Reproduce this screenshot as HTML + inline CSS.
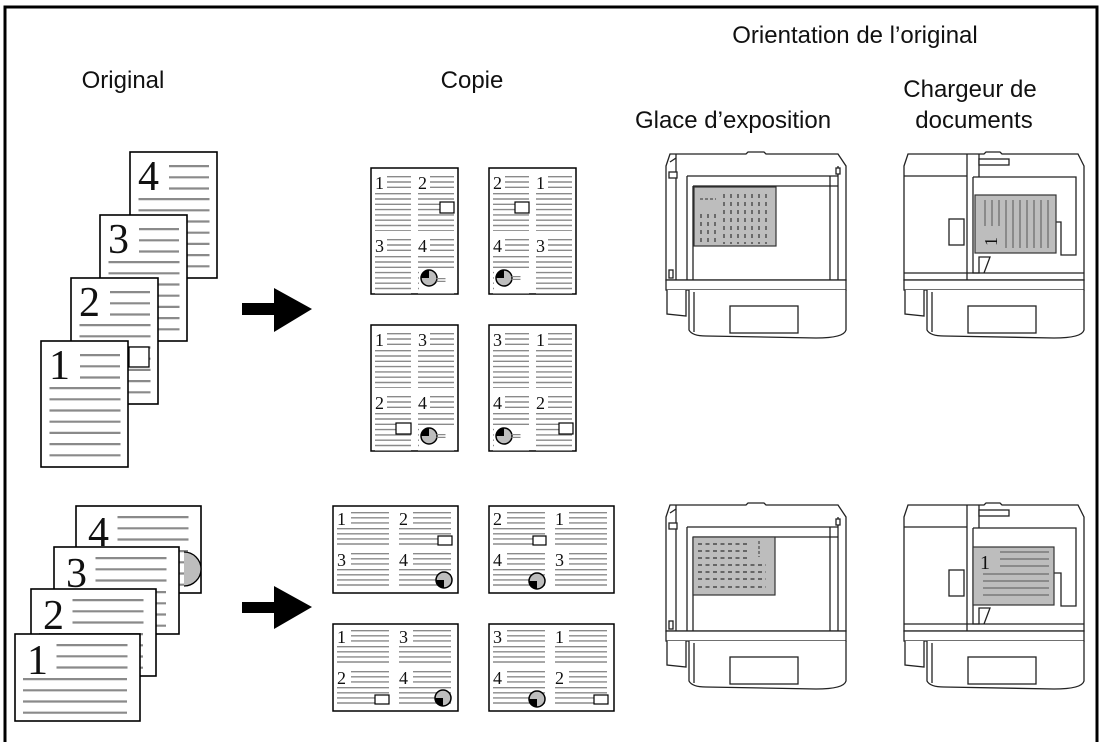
<!DOCTYPE html>
<html><head><meta charset="utf-8"><style>
html,body{margin:0;padding:0;background:#fff;width:1100px;height:742px;overflow:hidden}
svg{display:block}
.lbl{font-family:"Liberation Sans",Arial,sans-serif;font-size:24px;fill:#111}
.n{font-family:"Liberation Serif","DejaVu Serif",serif;fill:#111}
</style></head><body>
<svg width="1100" height="742" viewBox="0 0 1100 742" xmlns="http://www.w3.org/2000/svg">
<defs>
  <!-- portrait copy quadrant lines -->
  <g id="pq" stroke="#8a8a8a" stroke-dasharray="1.4 3.9">
    <line x1="24" y1="2" x2="24" y2="17" stroke-width="24"/>
    <line x1="18" y1="19" x2="18" y2="57" stroke-width="36"/>
  </g>
  <!-- landscape copy quadrant lines -->
  <g id="lq" stroke="#8a8a8a" stroke-dasharray="1.4 3.7">
    <line x1="33" y1="2" x2="33" y2="16" stroke-width="38"/>
    <line x1="26" y1="18" x2="26" y2="38" stroke-width="52"/>
  </g>
  <g id="pie">
    <circle r="8" fill="#bdbdbd" stroke="#000" stroke-width="1.5"/>
    <path d="M0,0 L0,-8 A8,8 0 0 0 -8,0 Z" fill="#000"/>
  </g>
  <g id="piel">
    <circle r="8" fill="#bdbdbd" stroke="#000" stroke-width="1.5"/>
    <path d="M0,0 L0,8 A8,8 0 0 1 -8,0 Z" fill="#000"/>
  </g>
  <!-- portrait original page -->
  <g id="po">
    <rect x="0" y="0" width="87" height="126" fill="#fff" stroke="#000" stroke-width="1.6"/>
    <line x1="59" y1="13" x2="59" y2="40" stroke="#8a8a8a" stroke-width="40" stroke-dasharray="2.2 9"/>
    <line x1="44" y1="46" x2="44" y2="122" stroke="#8a8a8a" stroke-width="71" stroke-dasharray="2.2 9"/>
  </g>
  <!-- landscape original page -->
  <g id="lo">
    <rect x="0" y="0" width="125" height="87" fill="#fff" stroke="#000" stroke-width="1.6"/>
    <line x1="77" y1="10" x2="77" y2="37" stroke="#8a8a8a" stroke-width="71" stroke-dasharray="2.2 9"/>
    <line x1="60" y1="44" x2="60" y2="84" stroke="#8a8a8a" stroke-width="104" stroke-dasharray="2.2 9"/>
  </g>
  <!-- machine base (common) -->
  <g id="base" fill="#fff" stroke="#222" stroke-width="1.3">
    <rect x="0" y="126" width="180" height="10"/>
    <path d="M1,136 L1,160 L20,162 L20,136"/>
    <path d="M23,136 L23,176 Q26,182 40,182 L150,184 Q178,184 180,176 L180,136"/>
    <line x1="28" y1="138" x2="28" y2="178"/>
    <rect x="64" y="152" width="68" height="27"/>
  </g>
  <!-- glass machine -->
  <g id="mg" fill="none" stroke="#222" stroke-width="1.3">
    <path d="M0,12 L4,0 L80,0 L82,-2 L98,-2 L100,0 L172,0 L180,12 L180,126 L0,126 Z" fill="#fff"/>
    <line x1="10" y1="0" x2="10" y2="126"/>
    <line x1="4" y1="8" x2="10" y2="4"/>
    <rect x="3" y="18" width="8" height="6" fill="#fff"/>
    <rect x="3" y="116" width="4" height="8" fill="#fff"/>
    <line x1="21" y1="22" x2="172" y2="22"/>
    <line x1="27" y1="32" x2="172" y2="32"/>
    <line x1="21" y1="22" x2="21" y2="126"/>
    <line x1="27" y1="32" x2="27" y2="126"/>
    <line x1="164" y1="22" x2="164" y2="126"/>
    <line x1="172" y1="12" x2="172" y2="126"/>
    <rect x="170" y="14" width="4" height="6" fill="#fff"/>
    <use href="#base"/>
  </g>
  <!-- ADF machine -->
  <g id="ma" fill="none" stroke="#222" stroke-width="1.3">
    <path d="M0,12 L4,0 L80,0 L82,-2 L96,-2 L98,0 L174,0 L180,12 L180,126 L0,126 Z" fill="#fff"/>
    <line x1="0" y1="22" x2="63" y2="22"/>
    <line x1="63" y1="0" x2="63" y2="126"/>
    <line x1="75" y1="0" x2="75" y2="23"/>
    <line x1="0" y1="119" x2="180" y2="119"/>
    <path d="M69,23 L172,23 L172,101 L157,101 L157,68 L144,68" fill="#fff"/>
    <rect x="45" y="65" width="15" height="26" fill="#fff"/>
    <path d="M69,23 L69,119 L75,119 L75,103 L86,103 L80,119" />
    <rect x="75" y="5" width="30" height="6" fill="#fff"/>
    <use href="#base"/>
  </g>
</defs>

<!-- frame -->
<path d="M5,742 L5,7 L1097,7 L1097,742" fill="none" stroke="#000" stroke-width="3"/>

<!-- labels -->
<text class="lbl" x="123" y="88" text-anchor="middle">Original</text>
<text class="lbl" x="472" y="88" text-anchor="middle">Copie</text>
<text class="lbl" x="855" y="43" text-anchor="middle">Orientation de l’original</text>
<text class="lbl" x="733" y="128" text-anchor="middle">Glace d’exposition</text>
<text class="lbl" x="970" y="97" text-anchor="middle">Chargeur de</text>
<text class="lbl" x="974" y="128" text-anchor="middle">documents</text>

<!-- top originals -->
<g transform="translate(130,152)"><use href="#po"/><text class="n" x="8" y="38" font-size="42">4</text></g>
<g transform="translate(100,215)"><use href="#po"/><text class="n" x="8" y="38" font-size="42">3</text></g>
<g transform="translate(71,278)"><use href="#po"/><rect x="58" y="69" width="20" height="20" fill="#fff" stroke="#000" stroke-width="1.3"/><text class="n" x="8" y="38" font-size="42">2</text></g>
<g transform="translate(41,341)"><use href="#po"/><text class="n" x="8" y="38" font-size="42">1</text></g>

<!-- arrows -->
<path d="M242,303 L274,303 L274,288 L312,309 L274,332 L274,315 L242,315 Z" fill="#000"/>
<path d="M242,602 L274,602 L274,586 L312,607 L274,629 L274,613 L242,613 Z" fill="#000"/>

<!-- portrait copies -->
<g transform="translate(371,168)">
  <rect width="87" height="126" fill="#fff" stroke="#000" stroke-width="1.5"/>
  <use href="#pq" x="4" y="6"/><use href="#pq" x="47" y="6"/><use href="#pq" x="4" y="69"/><use href="#pq" x="47" y="69"/>
  <text class="n" font-size="18" x="4" y="21">1</text><text class="n" font-size="18" x="47" y="21">2</text>
  <text class="n" font-size="18" x="4" y="84">3</text><text class="n" font-size="18" x="47" y="84">4</text>
  <rect x="69" y="34" width="14" height="11" fill="#fff" stroke="#000" stroke-width="1.2"/>
  <rect x="48" y="100" width="36" height="22" fill="#fff"/>
  <use href="#pie" x="58" y="110"/><line x1="70" y1="110" x2="70" y2="114" stroke="#8a8a8a" stroke-width="9" stroke-dasharray="1.2 1.6"/>
</g>
<g transform="translate(489,168)">
  <rect width="87" height="126" fill="#fff" stroke="#000" stroke-width="1.5"/>
  <use href="#pq" x="4" y="6"/><use href="#pq" x="47" y="6"/><use href="#pq" x="4" y="69"/><use href="#pq" x="47" y="69"/>
  <text class="n" font-size="18" x="4" y="21">2</text><text class="n" font-size="18" x="47" y="21">1</text>
  <text class="n" font-size="18" x="4" y="84">4</text><text class="n" font-size="18" x="47" y="84">3</text>
  <rect x="26" y="34" width="14" height="11" fill="#fff" stroke="#000" stroke-width="1.2"/>
  <rect x="5" y="100" width="36" height="22" fill="#fff"/>
  <use href="#pie" x="15" y="110"/><line x1="27" y1="108" x2="27" y2="112" stroke="#8a8a8a" stroke-width="9" stroke-dasharray="1.2 1.6"/>
</g>
<g transform="translate(371,325)">
  <rect width="87" height="126" fill="#fff" stroke="#000" stroke-width="1.5"/>
  <use href="#pq" x="4" y="6"/><use href="#pq" x="47" y="6"/><use href="#pq" x="4" y="69"/><use href="#pq" x="47" y="69"/>
  <text class="n" font-size="18" x="4" y="21">1</text><text class="n" font-size="18" x="47" y="21">3</text>
  <text class="n" font-size="18" x="4" y="84">2</text><text class="n" font-size="18" x="47" y="84">4</text>
  <rect x="25" y="98" width="15" height="11" fill="#fff" stroke="#000" stroke-width="1.2"/>
  <rect x="48" y="100" width="36" height="22" fill="#fff"/>
  <use href="#pie" x="58" y="111"/><line x1="70" y1="109" x2="70" y2="113" stroke="#8a8a8a" stroke-width="9" stroke-dasharray="1.2 1.6"/>
</g>
<g transform="translate(489,325)">
  <rect width="87" height="126" fill="#fff" stroke="#000" stroke-width="1.5"/>
  <use href="#pq" x="4" y="6"/><use href="#pq" x="47" y="6"/><use href="#pq" x="4" y="69"/><use href="#pq" x="47" y="69"/>
  <text class="n" font-size="18" x="4" y="21">3</text><text class="n" font-size="18" x="47" y="21">1</text>
  <text class="n" font-size="18" x="4" y="84">4</text><text class="n" font-size="18" x="47" y="84">2</text>
  <rect x="70" y="98" width="14" height="11" fill="#fff" stroke="#000" stroke-width="1.2"/>
  <rect x="5" y="100" width="36" height="22" fill="#fff"/>
  <use href="#pie" x="15" y="111"/><line x1="27" y1="109" x2="27" y2="113" stroke="#8a8a8a" stroke-width="9" stroke-dasharray="1.2 1.6"/>
</g>

<!-- bottom originals -->
<g transform="translate(76,506)"><use href="#lo"/><path d="M108,46 A17,17 0 0 1 108,80" fill="#bdbdbd" stroke="#000" stroke-width="1.3"/><text class="n" x="12" y="40" font-size="42">4</text></g>
<g transform="translate(54,547)"><use href="#lo"/><text class="n" x="12" y="40" font-size="42">3</text></g>
<g transform="translate(31,589)"><use href="#lo"/><text class="n" x="12" y="40" font-size="42">2</text></g>
<g transform="translate(15,634)"><use href="#lo"/><text class="n" x="12" y="40" font-size="42">1</text></g>

<!-- landscape copies -->
<g transform="translate(333,506)">
  <rect width="125" height="87" fill="#fff" stroke="#000" stroke-width="1.5"/>
  <use href="#lq" x="4" y="4"/><use href="#lq" x="66" y="4"/><use href="#lq" x="4" y="45"/><use href="#lq" x="66" y="45"/>
  <text class="n" font-size="18" x="4" y="19">1</text><text class="n" font-size="18" x="66" y="19">2</text>
  <text class="n" font-size="18" x="4" y="60">3</text><text class="n" font-size="18" x="66" y="60">4</text>
  <rect x="105" y="30" width="14" height="9" fill="#fff" stroke="#000" stroke-width="1.2"/>
  <use href="#piel" x="111" y="74"/>
</g>
<g transform="translate(489,506)">
  <rect width="125" height="87" fill="#fff" stroke="#000" stroke-width="1.5"/>
  <use href="#lq" x="4" y="4"/><use href="#lq" x="66" y="4"/><use href="#lq" x="4" y="45"/><use href="#lq" x="66" y="45"/>
  <text class="n" font-size="18" x="4" y="19">2</text><text class="n" font-size="18" x="66" y="19">1</text>
  <text class="n" font-size="18" x="4" y="60">4</text><text class="n" font-size="18" x="66" y="60">3</text>
  <rect x="44" y="30" width="13" height="9" fill="#fff" stroke="#000" stroke-width="1.2"/>
  <use href="#piel" x="48" y="75"/>
</g>
<g transform="translate(333,624)">
  <rect width="125" height="87" fill="#fff" stroke="#000" stroke-width="1.5"/>
  <use href="#lq" x="4" y="4"/><use href="#lq" x="66" y="4"/><use href="#lq" x="4" y="45"/><use href="#lq" x="66" y="45"/>
  <text class="n" font-size="18" x="4" y="19">1</text><text class="n" font-size="18" x="66" y="19">3</text>
  <text class="n" font-size="18" x="4" y="60">2</text><text class="n" font-size="18" x="66" y="60">4</text>
  <rect x="42" y="71" width="14" height="9" fill="#fff" stroke="#000" stroke-width="1.2"/>
  <use href="#piel" x="110" y="74"/>
</g>
<g transform="translate(489,624)">
  <rect width="125" height="87" fill="#fff" stroke="#000" stroke-width="1.5"/>
  <use href="#lq" x="4" y="4"/><use href="#lq" x="66" y="4"/><use href="#lq" x="4" y="45"/><use href="#lq" x="66" y="45"/>
  <text class="n" font-size="18" x="4" y="19">3</text><text class="n" font-size="18" x="66" y="19">1</text>
  <text class="n" font-size="18" x="4" y="60">4</text><text class="n" font-size="18" x="66" y="60">2</text>
  <rect x="105" y="71" width="14" height="9" fill="#fff" stroke="#000" stroke-width="1.2"/>
  <use href="#piel" x="48" y="75"/>
</g>

<!-- machines top -->
<use href="#mg" x="666" y="154"/>
<g>
  <rect x="694" y="187" width="82" height="59" fill="#bdbdbd" stroke="#333" stroke-width="1.2"/>
  <line x1="700" y1="199" x2="716" y2="199" stroke="#333" stroke-width="1" stroke-dasharray="3 2"/>
  <g stroke="#333" stroke-width="1.2" stroke-dasharray="4 4">
    <line x1="724" y1="194" x2="724" y2="244"/><line x1="731" y1="194" x2="731" y2="244"/><line x1="738" y1="194" x2="738" y2="244"/><line x1="745" y1="194" x2="745" y2="244"/><line x1="752" y1="194" x2="752" y2="244"/><line x1="759" y1="194" x2="759" y2="244"/><line x1="766" y1="194" x2="766" y2="244"/>
    <line x1="701" y1="214" x2="701" y2="244"/><line x1="708" y1="214" x2="708" y2="244"/><line x1="715" y1="214" x2="715" y2="244"/>
  </g>
</g>
<use href="#ma" x="904" y="154"/>
<g>
  <rect x="975" y="195" width="81" height="58" fill="#bdbdbd" stroke="#333" stroke-width="1.2"/>
  <g stroke="#8a8a8a" stroke-width="2">
    <line x1="985" y1="200" x2="985" y2="226"/><line x1="992" y1="200" x2="992" y2="226"/><line x1="999" y1="200" x2="999" y2="226"/>
    <line x1="1006" y1="200" x2="1006" y2="248"/><line x1="1013" y1="200" x2="1013" y2="248"/><line x1="1020" y1="200" x2="1020" y2="248"/><line x1="1027" y1="200" x2="1027" y2="248"/><line x1="1034" y1="200" x2="1034" y2="248"/><line x1="1041" y1="200" x2="1041" y2="248"/><line x1="1048" y1="200" x2="1048" y2="248"/>
  </g>
  <text class="n" font-size="18" transform="translate(997,246) rotate(-90)">1</text>
</g>

<!-- machines bottom -->
<use href="#mg" x="666" y="505"/>
<g>
  <rect x="693" y="537" width="82" height="58" fill="#bdbdbd" stroke="#333" stroke-width="1.2"/>
  <g stroke="#333" stroke-width="1.2" stroke-dasharray="4 3.5">
    <line x1="698" y1="544" x2="748" y2="544"/><line x1="698" y1="551" x2="748" y2="551"/><line x1="698" y1="558" x2="748" y2="558"/>
    <line x1="698" y1="565" x2="766" y2="565"/><line x1="698" y1="572" x2="766" y2="572"/><line x1="698" y1="579" x2="766" y2="579"/><line x1="698" y1="587" x2="766" y2="587"/>
  </g>
  <line x1="759" y1="541" x2="759" y2="557" stroke="#333" stroke-width="1" stroke-dasharray="3 2"/>
</g>
<use href="#ma" x="904" y="505"/>
<g>
  <rect x="973" y="547" width="81" height="58" fill="#bdbdbd" stroke="#333" stroke-width="1.2"/>
  <g stroke="#8a8a8a" stroke-width="2">
    <line x1="1000" y1="552" x2="1049" y2="552"/><line x1="1000" y1="559" x2="1049" y2="559"/><line x1="1000" y1="566" x2="1049" y2="566"/>
    <line x1="983" y1="574" x2="1049" y2="574"/><line x1="983" y1="581" x2="1049" y2="581"/><line x1="983" y1="588" x2="1049" y2="588"/><line x1="983" y1="595" x2="1049" y2="595"/>
  </g>
  <text class="n" font-size="20" x="980" y="569">1</text>
</g>
</svg>
</body></html>
